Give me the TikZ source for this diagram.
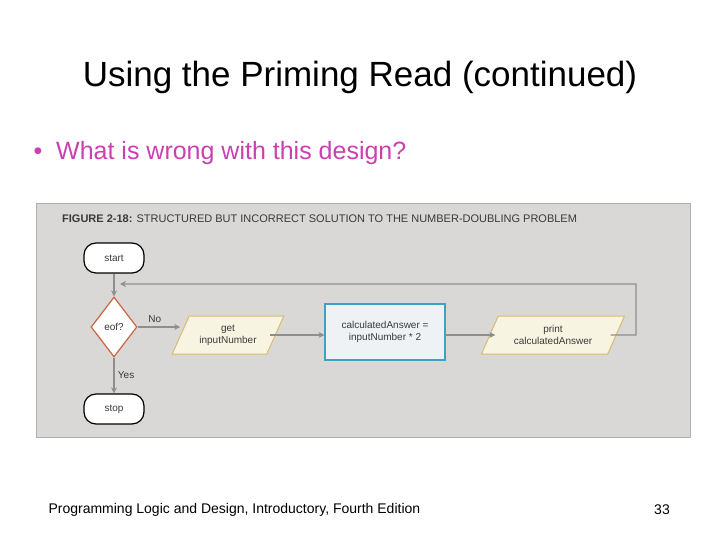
\documentclass[tikz,border=0pt]{standalone}
\usepackage{fontspec}
\setmainfont{Liberation Sans}
\usetikzlibrary{shapes.geometric,positioning,arrows.meta}
\definecolor{panelgray}{HTML}{D9D8D6}
\definecolor{linegray}{HTML}{8E8E8E}
\definecolor{bulletpink}{HTML}{CC3FB0}
\definecolor{ioyellow}{HTML}{F8F4E2}
\definecolor{ioedge}{HTML}{D6BE6E}
\definecolor{procblue}{HTML}{EEF2F4}
\definecolor{procedge}{HTML}{3BA3C4}
\definecolor{decedge}{HTML}{C9663D}
\definecolor{figtext}{HTML}{3A3A3A}
\tikzset{
  term/.style = {draw, line width=1.2pt, rounded corners=12pt, fill=white, text=figtext,
                 minimum width=60pt, minimum height=30pt, font=\fontsize{10}{11}\selectfont},
  decide/.style = {diamond, draw=decedge, line width=1.2pt, fill=white, aspect=0.75, text=figtext,
                   minimum width=46pt, minimum height=60pt, inner sep=0pt, font=\fontsize{10}{11}\selectfont},
  iobox/.style = {trapezium, trapezium left angle=60, trapezium right angle=120, trapezium stretches=true,
                  draw=ioedge, line width=1pt, fill=ioyellow, text=figtext, minimum width=112pt,
                  minimum height=38pt, inner sep=1pt, align=center, font=\fontsize{10}{12}\selectfont},
  procbox/.style = {draw=procedge, line width=1.2pt, fill=procblue, text=figtext, minimum width=120pt,
                    minimum height=56pt, align=center, font=\fontsize{10}{12}\selectfont},
  flow/.style = {draw=linegray, line width=1.3pt, -{Stealth[length=6pt,width=6pt]}},
  lbl/.style = {text=figtext, font=\fontsize{10}{11}\selectfont}
}
\begin{document}
\begin{tikzpicture}[x=1pt,y=-1pt]
\useasboundingbox (0,0) rectangle (720,540);

%% Title and bullet

\node (title) at (360,77) {\fontsize{35}{40}\selectfont Using the Priming Read (continued)};
\node[anchor=west, text=bulletpink] (bullet) at (30,153) {\fontsize{25}{30}\selectfont \textbullet\ \ What is wrong with this design?};

%% Figure panel

\filldraw[fill=panelgray, draw=linegray!70, line width=1pt] (36,204) rectangle (690,437);
\node[anchor=west, inner sep=0pt, text=figtext] (caption) at (62,219)
  {\fontsize{11}{12}\selectfont\textbf{FIGURE 2-18:} STRUCTURED BUT INCORRECT SOLUTION TO THE NUMBER-DOUBLING PROBLEM};

%% Shapes

\node[term] (start) at (114,258) {start};
\node[decide] (eof) at (114,327) {eof?};
\node[term] (stop) at (114,409) {stop};
\node[iobox] (get) at (228,335) {get\\inputNumber};
\node[procbox] (calc) at (385,332) {calculatedAnswer =\\inputNumber * 2};
\node[iobox, minimum width=143pt] (print) at (553,335) {print\\calculatedAnswer};

%% Connectors

\coordinate (loopA) at (636,335);
\coordinate (loopB) at (636,284);
\coordinate (loopC) at (114,284);
\draw[flow] (start) -- (eof);
\draw[flow] (eof.east) -- (eof.east -| get.west) node[lbl, midway, above, xshift=-4pt] {No};
\draw[flow] (eof) -- (stop) node[lbl, midway, right] {Yes};
\draw[flow] ([xshift=-6pt]get.east) -- (get.east -| calc.west);
\draw[flow] (calc.east |- print.west) -- ([xshift=6pt]print.west);
\draw[flow] ([xshift=-6pt]print.east) -- (loopA) -- (loopB) -- ([xshift=6pt]loopC);

%% Footer

\node[anchor=west] (footer) at (45,510) {\fontsize{14}{16}\selectfont Programming Logic and Design, Introductory, Fourth Edition};
\node (page) at (662,510) {\fontsize{14}{16}\selectfont 33};

\end{tikzpicture}
\end{document}
